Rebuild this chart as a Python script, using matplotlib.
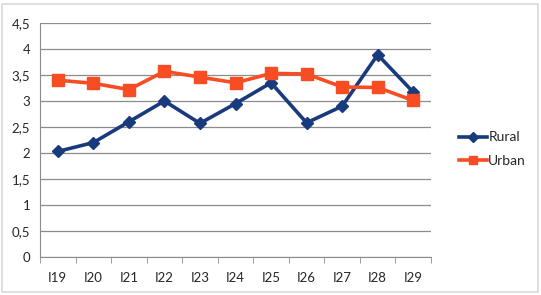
import matplotlib
matplotlib.use("Agg")
import matplotlib.pyplot as plt
from matplotlib.ticker import FuncFormatter, MultipleLocator
from matplotlib.patches import Rectangle

categories = ["I19", "I20", "I21", "I22", "I23", "I24", "I25", "I26", "I27", "I28", "I29"]
rural = [2.03, 2.20, 2.60, 3.00, 2.57, 2.95, 3.35, 2.58, 2.90, 3.89, 3.17]
urban = [3.40, 3.34, 3.22, 3.57, 3.46, 3.35, 3.53, 3.52, 3.27, 3.26, 3.01]

plt.rcParams['font.family'] = ['Lato', 'DejaVu Sans']

fig = plt.figure(figsize=(5.41, 2.95), dpi=100)
ax = fig.add_axes([40 / 541, 1 - 257 / 295, 391 / 541, 234 / 295])

# outer chart border
fig.patches.append(Rectangle((2 / 541, 3 / 295), 536 / 541, 288 / 295,
                             transform=fig.transFigure, fill=False,
                             edgecolor="#d9d9d9", linewidth=1.2))

x = list(range(len(categories)))
ax.plot(x, rural, color="#1a3a7e", linewidth=2.6, marker="D", markersize=6,
        label="Rural", zorder=3)
ax.plot(x, urban, color="#f84c22", linewidth=2.6, marker="s", markersize=8,
        label="Urban", zorder=3)

ax.set_xlim(-0.5, len(categories) - 0.5)
ax.set_ylim(0, 4.5)
ax.yaxis.set_major_locator(MultipleLocator(0.5))
ax.yaxis.set_major_formatter(FuncFormatter(lambda v, p: f"{v:g}".replace(".", ",")))
ax.grid(axis="y", color="#8c8c8c", linewidth=0.9)
ax.set_axisbelow(True)

ax.set_xticks(x)
ax.set_xticklabels(categories)
ax.set_xticks([i - 0.5 for i in range(len(categories) + 1)], minor=True)
ax.tick_params(axis="x", which="major", length=0, pad=11, labelsize=9.5, colors="#262626")
ax.tick_params(axis="x", which="minor", length=4, color="#8c8c8c", direction="out")
ax.tick_params(axis="y", length=0, pad=7, labelsize=9.5, colors="#262626")

for s in ["top", "right"]:
    ax.spines[s].set_visible(False)
ax.spines["left"].set_color("#8c8c8c")
ax.spines["bottom"].set_color("#8c8c8c")

leg = ax.legend(loc="center left", bbox_to_anchor=(1.04, 0.46), frameon=False,
                fontsize=10, handlelength=2.0, handletextpad=0.1, labelspacing=0.85,
                markerscale=0.8)
for t in leg.get_texts():
    t.set_color("#262626")

fig.savefig("out.png", dpi=100)
